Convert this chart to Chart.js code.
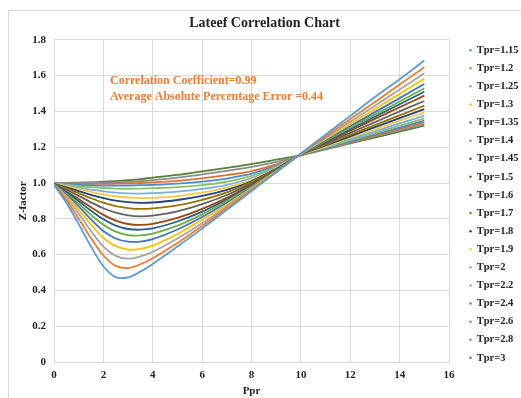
<!DOCTYPE html>
<html>
<head>
<meta charset="utf-8">
<script src="https://cdn.jsdelivr.net/npm/chart.js@4"></script>
<style>
  body { margin: 0; background: #fff; }
  #frame { position: absolute; left: 8px; top: 10px; width: 520px; height: 400px;
           border-left: 1px solid #d9d9d9; border-top: 1px solid #d9d9d9; }
  #wrap { position: absolute; left: 8px; top: 10px; width: 513px; height: 388px; }
</style>
</head>
<body>
<div id="frame"></div>
<div id="wrap"><canvas id="chart"></canvas></div>
<script>
const ppr = [0, 0.5, 1, 1.5, 2, 2.5, 3, 3.5, 4, 5, 6, 7, 8, 9, 10, 11, 12, 13, 14, 15];

const tprLabels = ["Tpr=1.15", "Tpr=1.2", "Tpr=1.25", "Tpr=1.3", "Tpr=1.35", "Tpr=1.4",
  "Tpr=1.45", "Tpr=1.5", "Tpr=1.6", "Tpr=1.7", "Tpr=1.8", "Tpr=1.9", "Tpr=2",
  "Tpr=2.2", "Tpr=2.4", "Tpr=2.6", "Tpr=2.8", "Tpr=3"];

const z115 = [0.99, 0.89, 0.77, 0.645, 0.535, 0.474, 0.473, 0.505, 0.548, 0.645, 0.745, 0.85, 0.955, 1.06, 1.165, 1.27, 1.375, 1.48, 1.58, 1.684];
const z120 = [0.99, 0.905, 0.80, 0.692, 0.595, 0.537, 0.525, 0.546, 0.58, 0.665, 0.76, 0.86, 0.96, 1.06, 1.163, 1.26, 1.357, 1.453, 1.55, 1.647];
const z125 = [0.99, 0.915, 0.83, 0.732, 0.645, 0.593, 0.577, 0.59, 0.615, 0.69, 0.775, 0.87, 0.965, 1.062, 1.162, 1.252, 1.342, 1.432, 1.522, 1.613];
const z130 = [0.99, 0.925, 0.85, 0.767, 0.693, 0.647, 0.628, 0.632, 0.65, 0.715, 0.795, 0.88, 0.97, 1.065, 1.162, 1.246, 1.33, 1.414, 1.498, 1.582];
const z135 = [0.99, 0.935, 0.87, 0.797, 0.732, 0.69, 0.672, 0.673, 0.686, 0.74, 0.81, 0.89, 0.975, 1.067, 1.161, 1.24, 1.318, 1.396, 1.474, 1.553];
const z140 = [0.99, 0.94, 0.885, 0.822, 0.767, 0.728, 0.709, 0.707, 0.717, 0.762, 0.825, 0.9, 0.98, 1.068, 1.161, 1.235, 1.309, 1.382, 1.455, 1.529];
const z145 = [0.993, 0.948, 0.898, 0.845, 0.797, 0.762, 0.743, 0.739, 0.746, 0.785, 0.84, 0.908, 0.984, 1.07, 1.161, 1.231, 1.3, 1.37, 1.44, 1.51];
const z150 = [0.993, 0.953, 0.91, 0.864, 0.822, 0.79, 0.771, 0.766, 0.772, 0.805, 0.855, 0.917, 0.99, 1.072, 1.16, 1.226, 1.292, 1.358, 1.423, 1.488];
const z160 = [0.994, 0.962, 0.928, 0.892, 0.859, 0.834, 0.819, 0.814, 0.818, 0.842, 0.882, 0.933, 0.998, 1.075, 1.16, 1.22, 1.28, 1.34, 1.4, 1.458];
const z170 = [0.995, 0.97, 0.943, 0.915, 0.89, 0.871, 0.86, 0.855, 0.858, 0.875, 0.906, 0.948, 1.005, 1.078, 1.159, 1.214, 1.269, 1.324, 1.378, 1.432];
const z180 = [0.996, 0.976, 0.955, 0.934, 0.916, 0.901, 0.893, 0.889, 0.891, 0.905, 0.928, 0.962, 1.01, 1.08, 1.159, 1.21, 1.261, 1.312, 1.362, 1.413];
const z190 = [0.997, 0.982, 0.966, 0.951, 0.937, 0.926, 0.919, 0.916, 0.917, 0.927, 0.946, 0.975, 1.018, 1.083, 1.158, 1.205, 1.253, 1.3, 1.348, 1.395];
const z200 = [0.998, 0.986, 0.974, 0.963, 0.953, 0.946, 0.942, 0.941, 0.943, 0.952, 0.967, 0.99, 1.028, 1.087, 1.158, 1.202, 1.246, 1.289, 1.333, 1.376];
const z220 = [0.999, 0.991, 0.983, 0.977, 0.972, 0.969, 0.968, 0.969, 0.971, 0.977, 0.988, 1.007, 1.04, 1.092, 1.157, 1.198, 1.239, 1.279, 1.32, 1.361];
const z240 = [1.0, 0.995, 0.99, 0.987, 0.985, 0.985, 0.986, 0.988, 0.99, 0.997, 1.008, 1.025, 1.052, 1.097, 1.157, 1.195, 1.233, 1.271, 1.31, 1.348];
const z260 = [1.0, 0.998, 0.996, 0.995, 0.995, 0.996, 0.998, 1.0, 1.004, 1.012, 1.026, 1.044, 1.067, 1.104, 1.156, 1.193, 1.229, 1.266, 1.302, 1.339];
const z280 = [1.0, 1.0, 1.0, 1.0, 1.001, 1.003, 1.006, 1.01, 1.016, 1.03, 1.048, 1.068, 1.09, 1.118, 1.156, 1.19, 1.225, 1.26, 1.294, 1.329];
const z300 = [1.0, 1.001, 1.002, 1.004, 1.007, 1.011, 1.016, 1.022, 1.03, 1.045, 1.065, 1.085, 1.106, 1.13, 1.155, 1.188, 1.221, 1.254, 1.287, 1.32];

const zSeries = [z115, z120, z125, z130, z135, z140, z145, z150, z160, z170, z180, z190, z200, z220, z240, z260, z280, z300];

const colors = ["#5B9BD5", "#ED7D31", "#A5A5A5", "#FFC000", "#4472C4", "#70AD47",
  "#255E91", "#9E480E", "#636363", "#997300", "#264478", "#F2C84B", "#7CAFDD",
  "#8CC168", "#4A8BD0", "#E0702A", "#8C8C8C", "#548235"];

const yTicks = [0, 0.2, 0.4, 0.6, 0.8, 1, 1.2, 1.4, 1.6, 1.8];
const xTicks = [0, 2, 4, 6, 8, 10, 12, 14, 16];

const notes = ["Correlation Coefficient=0.99", "Average Absolute Percentage Error =0.44"];

const serif = "'Liberation Serif', 'Times New Roman', serif";

const datasets = zSeries.map((z, i) => ({
  label: tprLabels[i],
  data: ppr.map((p, j) => ({ x: p, y: z[j] })),
  borderColor: colors[i],
  backgroundColor: colors[i],
  borderWidth: 1.8,
  pointRadius: 0,
  pointStyle: "circle",
  showLine: true,
  tension: 0.35,
}));

// text box inside the plot
const notePlugin = {
  id: "notes",
  afterDraw(chart) {
    const ctx = chart.ctx;
    ctx.save();
    ctx.font = "bold 12px " + serif;
    ctx.fillStyle = "#ED7D31";
    ctx.textBaseline = "middle";
    ctx.fillText(notes[0], 102, 71);
    ctx.fillText(notes[1], 102, 87);
    ctx.restore();
  },
};

// keep the legend a fixed width and nudge its items away from the plot
const legendSpot = {
  id: "legendSpot",
  beforeUpdate(chart) {
    const lg = chart.legend;
    if (lg && !lg._fixed) {
      const fit = lg.fit;
      lg.fit = function () { fit.call(this); this.width = 72; };
      lg._fixed = true;
    }
  },
  afterLayout(chart) {
    const lg = chart.legend;
    lg.left += 13;
    lg.right += 13;
  },
};

new Chart(document.getElementById("chart"), {
  type: "scatter",
  data: { datasets },
  plugins: [notePlugin, legendSpot],
  options: {
    responsive: true,
    maintainAspectRatio: false,
    animation: false,
    layout: { padding: 0 },
    plugins: {
      title: {
        display: true,
        text: "Lateef Correlation Chart",
        color: "#222",
        font: { family: serif, size: 14, weight: "bold" },
        padding: { top: 5, bottom: 8 },
      },
      legend: {
        position: "right",
        labels: {
          usePointStyle: true,
          boxWidth: 1.8,
          boxHeight: 1.8,
          padding: 7.6,
          color: "#222",
          font: { family: serif, size: 10.5, weight: "bold" },
          generateLabels: (chart) =>
            Chart.defaults.plugins.legend.labels.generateLabels(chart)
              .map((l) => ({ ...l, lineWidth: 0 })),
        },
      },
      tooltip: { enabled: false },
    },
    scales: {
      x: {
        type: "linear",
        min: 0,
        max: 16,
        afterBuildTicks: (s) => { s.ticks = xTicks.map((v) => ({ value: v })); },
        afterFit: (s) => { s.height = 36; },
        ticks: { color: "#222", font: { family: serif, size: 11, weight: "bold" }, padding: 7 },
        grid: { color: "#d9d9d9", drawTicks: false },
        border: { color: "#d9d9d9" },
        title: { display: true, text: "Ppr", color: "#222", padding: 0,
                 font: { family: serif, size: 11, weight: "bold" } },
      },
      y: {
        type: "linear",
        min: 0,
        max: 1.8,
        afterBuildTicks: (s) => { s.ticks = yTicks.map((v) => ({ value: v })); },
        afterFit: (s) => { s.width = 46; },
        ticks: { color: "#222", font: { family: serif, size: 11, weight: "bold" }, padding: 8 },
        grid: { color: "#d9d9d9", drawTicks: false },
        border: { color: "#d9d9d9" },
        title: { display: true, text: "Z-factor", color: "#222", padding: { top: 9, bottom: 0 },
                 font: { family: serif, size: 11, weight: "bold" } },
      },
    },
  },
});
</script>
</body>
</html>
